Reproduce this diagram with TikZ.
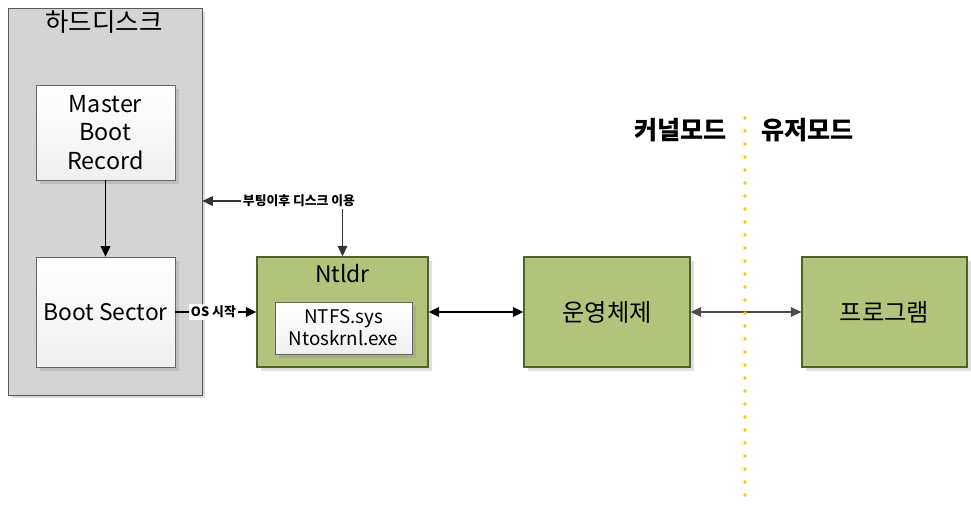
\documentclass[tikz,border=0pt]{standalone}
\usepackage{fontspec}
\setmainfont{Noto Sans CJK KR}
\usepackage{tikz}
\usetikzlibrary{shadows, arrows.meta}

\definecolor{olivefill}{RGB}{178,196,124}
\definecolor{olivedraw}{RGB}{79,98,40}
\definecolor{diskgray}{RGB}{212,212,212}
\definecolor{dotyellow}{RGB}{255,192,0}

\begin{document}
\begin{tikzpicture}[x=0.02cm, y=-0.02cm, >={Triangle[length=6pt, width=5.5pt]},
    whitebox/.style={draw=gray!80!black, top color=white, bottom color=gray!12, align=center, font=\fontsize{13.3}{16}\selectfont, drop shadow={opacity=0.25, shadow xshift=2pt, shadow yshift=-2pt}},
    greenbox/.style={draw=olivedraw, thick, fill=olivefill, minimum width=3.3cm, minimum height=2.2cm, font=\fontsize{13.8}{16}\selectfont, drop shadow={opacity=0.25, shadow xshift=2pt, shadow yshift=-2pt}},
    tinylabel/.style={fill=white, inner sep=1pt, font=\fontsize{7.3}{8}\selectfont\bfseries}]
    \useasboundingbox (0,0) rectangle (971,517);

    % Hard disk
    \node[draw=gray!70!black, fill=diskgray, minimum width=3.88cm, minimum height=7.74cm, drop shadow={opacity=0.3, shadow xshift=2pt, shadow yshift=-2pt}] (disk) at (105,201.5) {};
    \node[font=\fontsize{14.5}{17}\selectfont] (disktitle) at (104,22) {하드디스크};
    \node[whitebox, minimum width=2.78cm, minimum height=1.9cm] (mbr) at (105.5,132.5) {Master\\Boot\\Record};
    \node[whitebox, minimum width=2.78cm, minimum height=2.2cm, font=\fontsize{13}{15}\selectfont] (boot) at (105.5,312) {Boot Sector};
    \draw[->, thick] (mbr) -- (boot);

    % Ntldr
    \node[greenbox, minimum width=3.42cm] (ntldr) at (342.5,312) {};
    \node[font=\fontsize{13}{15}\selectfont] (ntldrtitle) at (342.5,274) {Ntldr};
    \node[whitebox, minimum width=2.74cm, minimum height=1.04cm, inner sep=1pt, font=\fontsize{10.7}{12.5}\selectfont] (kernfiles) at (343.5,328) {NTFS.sys\\Ntoskrnl.exe};
    \draw[->, thick] (boot) -- node[tinylabel, pos=0.47] {OS 시작} (ntldr);

    % disk usage after booting
    \node[tinylabel] (usage) at (299,201) {부팅이후 디스크 이용};
    \draw[->, thick, black!80] (usage.west) -- (disk.east |- usage.west);
    \draw[->, thick, black!80] (usage.south -| ntldr.north) -- (ntldr.north);

    % OS and program
    \node[greenbox, minimum width=3.32cm] (os) at (607,312) {운영체제};
    \node[greenbox] (prog) at (884.5,312) {프로그램};
    \draw[<->, thick] (ntldr) -- (os);
    \draw[<->, black!70, semithick] (os) -- (prog);

    % kernel / user boundary
    \coordinate (bordertop) at (745,118);
    \coordinate (borderbot) at (745,500);
    \draw[dotyellow, line width=2.1pt, line cap=round, dash pattern=on 0pt off 0.26cm] (bordertop) -- (borderbot);
    \node[anchor=east, font=\fontsize{14.3}{17}\selectfont\bfseries] (kernel) at (733,130) {커널모드};
    \node[anchor=west, font=\fontsize{14.3}{17}\selectfont\bfseries] (user) at (755,130) {유저모드};
\end{tikzpicture}
\end{document}
